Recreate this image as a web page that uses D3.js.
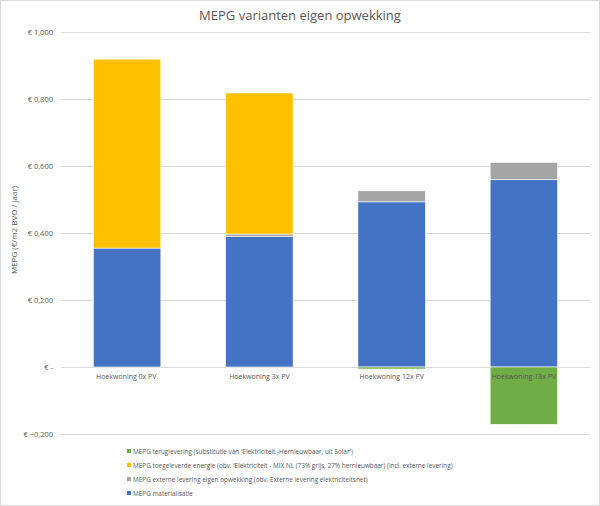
<!DOCTYPE html>
<html><head><meta charset="utf-8">
<script src="https://cdn.jsdelivr.net/npm/d3@7"></script>
<style>body{margin:0;background:#fff}svg{display:block}text{font-family:"Open Sans","Liberation Sans",sans-serif}</style>
</head><body><svg id="c" width="600" height="506"></svg>
<script>
const categories = ["Hoekwoning 0x PV.", "Hoekwoning 3x PV", "Hoekwoning 12x PV", "Hoekwoning 18x PV"];
const materialisatie = [0.355, 0.389, 0.493, 0.559];
const externeLevering = [0.000, 0.008, 0.033, 0.052];
const toegeleverd = [0.564, 0.421, 0.000, 0.000];
const teruglevering = [0.000, 0.000, -0.006, -0.171];
const yTicks = [-0.2, 0, 0.2, 0.4, 0.6, 0.8, 1.0];
const legendLabels = [
  "MEPG teruglevering (substitutie van 'Elektriciteit -Hernieuwbaar, uit Solar')",
  "MEPG toegeleverde energie (obv. 'Elektriciteit - MIX NL (73% grijs, 27% hernieuwbaar) (incl. externe levering)",
  "MEPG externe levering eigen opwekking (obv. Externe levering elektriciteitsnet)",
  "MEPG materialisatie"
];
const colors = {mat:"#4472C4", ext:"#A5A5A5", toe:"#FFC000", ter:"#70AD47"};
const legendColors = [colors.ter, colors.toe, colors.ext, colors.mat];

const svg = d3.select("#c");
svg.append("rect").attr("x",0.5).attr("y",0.5).attr("width",599).attr("height",505).attr("fill","#fff").attr("stroke","#d9d9d9");
svg.append("text").attr("x",300).attr("y",20).attr("text-anchor","middle").attr("font-size",13).attr("fill","#595959").text("MEPG varianten eigen opwekking");

const x = d3.scaleBand().domain(categories).range([61,590]).paddingInner(0.49).paddingOuter(0.245);
const y = d3.scaleLinear().domain([-0.2,1.0]).range([434,32]);

const fmt = v => Math.abs(v) < 1e-9 ? "€ -" : "€ " + d3.format(".3f")(v).replace(".", ",");
const yAxis = d3.axisLeft(y).tickValues(yTicks).tickSize(-(590-61)).tickFormat(fmt).tickPadding(8);
const ga = svg.append("g").attr("transform","translate(61,0)").call(yAxis);
ga.select(".domain").remove();
ga.selectAll(".tick line").attr("stroke","#d9d9d9");
ga.selectAll(".tick text").attr("fill","#595959").attr("font-size",7.5);

svg.append("text").attr("transform","translate(17,230) rotate(-90)").attr("text-anchor","middle").attr("font-size",8).attr("fill","#595959").text("MEPG (€/m2 BVO / jaar)");

const stacked = categories.map((c,i)=>{
  const m = materialisatie[i], e = externeLevering[i], t = toegeleverd[i];
  return [
    {c, y0:0, y1:m, col:colors.mat},
    {c, y0:m, y1:m+e, col:colors.ext},
    {c, y0:m+e, y1:m+e+t, col:colors.toe},
    {c, y0:teruglevering[i], y1:0, col:colors.ter}
  ];
}).flat().filter(d=>Math.abs(d.y1-d.y0)>1e-9);

svg.append("g").selectAll("rect").data(stacked).join("rect")
  .attr("x",d=>x(d.c)).attr("width",x.bandwidth())
  .attr("y",d=>y(d.y1)).attr("height",d=>Math.max(1,y(d.y0)-y(d.y1)))
  .attr("fill",d=>d.col).attr("stroke","#fff").attr("stroke-width",0.6);

svg.append("g").selectAll("text").data(categories).join("text")
  .attr("x",d=>x(d)+x.bandwidth()/2).attr("y",379).attr("text-anchor","middle")
  .attr("font-size",7).attr("fill","#595959").text(d=>d);

const lg = svg.append("g");
legendLabels.forEach((l,i)=>{
  const yy = 452 + i*14;
  lg.append("rect").attr("x",127).attr("y",yy-3).attr("width",4).attr("height",4).attr("fill",legendColors[i]);
  lg.append("text").attr("x",133).attr("y",yy+2).attr("font-size",6.4).attr("fill","#595959").text(l);
});
</script></body></html>
